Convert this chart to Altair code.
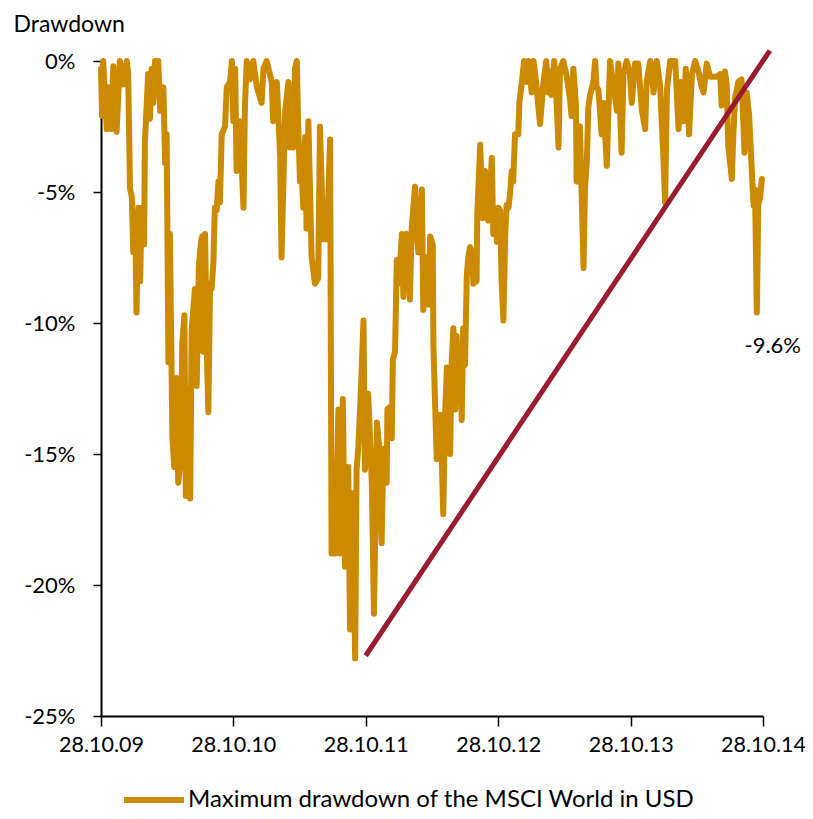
import altair as alt
import pandas as pd

START = "2009-10-28"
SERIES = "Maximum drawdown of the MSCI World in USD"

days = [0, 3, 6, 16, 19, 28, 34, 43, 52, 62, 71, 75, 80, 85, 89, 94, 98, 103, 108, 112,
        119, 121, 126, 130, 135, 140, 144, 149, 158, 163, 172, 177, 181, 186, 190, 197, 202, 209, 213, 221,
        224, 230, 234, 239, 246, 250, 259, 264, 270, 276, 279, 282, 287, 292, 296, 301, 305, 310, 314, 319,
        324, 328, 333, 342, 347, 356, 361, 365, 370, 374, 383, 393, 397, 402, 411, 420, 430, 443, 448, 457,
        471, 475, 485, 494, 498, 508, 517, 521, 526, 530, 535, 540, 544, 549, 554, 558, 563, 567, 572, 581,
        590, 599, 604, 613, 623, 632, 636, 646, 655, 659, 667, 673, 682, 687, 692, 696, 701, 705, 710, 716,
        724, 728, 737, 747, 753, 761, 768, 774, 779, 788, 790, 797, 802, 805, 811, 816, 820, 825, 830, 834,
        839, 843, 848, 852, 857, 866, 871, 875, 885, 889, 897, 903, 908, 915, 917, 926, 935, 940, 944, 949,
        954, 958, 963, 967, 972, 977, 981, 986, 990, 995, 999, 1004, 1009, 1013, 1018, 1023, 1027, 1036, 1038, 1046,
        1053, 1059, 1064, 1068, 1073, 1078, 1082, 1087, 1092, 1096, 1101, 1105, 1110, 1115, 1119, 1124, 1128, 1133, 1137, 1142,
        1151, 1154, 1161, 1167, 1174, 1179, 1188, 1193, 1202, 1206, 1211, 1220, 1228, 1234, 1239, 1243, 1250, 1255, 1262, 1266,
        1275, 1285, 1294, 1298, 1303, 1310, 1312, 1321, 1331, 1335, 1340, 1344, 1349, 1358, 1363, 1367, 1372, 1381, 1386, 1395,
        1404, 1413, 1423, 1427, 1436, 1441, 1450, 1459, 1464, 1473, 1482, 1492, 1501, 1505, 1515, 1524, 1533, 1542, 1551, 1556,
        1561, 1570, 1584, 1593, 1600, 1606, 1613, 1622, 1630, 1639, 1648, 1657, 1662, 1671, 1680, 1699, 1708, 1712, 1721, 1726,
        1730, 1740, 1744, 1749, 1758, 1767, 1775, 1781, 1788, 1793, 1800, 1804, 1809, 1813, 1818, 1823]

drawdown = [-0.3, -2.1, 0, -2.6, -1.0, -2.6, -0.2, -2.7, 0, -0.9, 0, -0.5, -4.85, -5.2, -7.3, -5.8, -9.6, -5.6, -8.4, -5.6,
            -7.0, -3.1, -1.7, -0.5, -2.2, -0.3, -1.6, 0, 0, -1.9, -1.0, -3.9, -2.8, -11.5, -6.6, -14.4, -15.5, -12.1, -16.1, -15.0,
            -10.8, -9.7, -16.6, -12.5, -16.7, -10.3, -8.7, -12.4, -7.8, -6.9, -6.7, -11.1, -6.6, -11.1, -13.4, -8.5, -8.7, -7.7, -5.6, -5.7,
            -4.6, -5.4, -2.8, -2.5, -1.0, -0.8, 0, -2.3, -0.3, -4.2, -2.3, -5.6, -1.7, 0, -0.7, 0, -1.0, -1.6, -0.3, 0,
            -0.8, -2.3, -0.8, -3.6, -7.5, -1.9, -0.8, -3.3, -1.5, -3.3, -0.3, 0, -2.5, -4.6, -4.4, -5.6, -2.9, -6.4, -2.3, -7.5,
            -8.5, -8.3, -2.5, -6.8, -6.8, -3.0, -18.8, -18.8, -13.3, -18.8, -12.9, -19.3, -15.5, -21.7, -16.5, -18.0, -22.8, -15.6, -14.7, -12.9,
            -9.9, -15.6, -12.7, -16.1, -21.1, -13.8, -14.8, -18.4, -14.8, -16.1, -13.3, -13.2, -14.4, -11.4, -11.1, -7.6, -8.5, -7.7, -6.6, -9.0,
            -6.8, -6.6, -7.7, -9.1, -6.4, -4.8, -6.4, -7.3, -4.9, -9.5, -7.5, -9.3, -6.7, -7.0, -10.9, -15.2, -13.5, -15.2, -17.3, -13.5,
            -11.7, -13.3, -15.0, -11.6, -10.2, -13.3, -10.5, -12.6, -11.0, -13.7, -10.2, -11.6, -8.2, -7.5, -7.1, -7.3, -8.5, -8.4, -5.8, -3.2,
            -6.0, -4.2, -5.8, -6.1, -5.0, -3.7, -6.6, -5.8, -6.9, -5.6, -5.7, -8.4, -9.9, -6.6, -5.5, -5.6, -5.1, -4.2, -4.6, -2.8,
            -2.8, -1.6, -0.8, 0, -0.8, 0, -1.2, 0, -1.0, -1.7, -2.4, -0.9, 0, -1.2, -0.4, -1.3, 0, -1.0, -3.3, -0.3,
            0, -0.6, -1.5, -2.1, -0.3, -1.7, -4.6, -2.5, -7.9, -4.8, -3.9, -1.8, -1.3, -0.8, 0, -1.0, -1.1, -2.8, -1.6, -4.0,
            0, -0.9, -1.9, -0.1, -3.5, -0.5, 0, -0.5, -1.6, -0.1, -0.1, -1.9, -2.6, -0.8, 0, -1.2, 0, -0.9, -3.6, -5.4,
            -1.1, 0, 0, -2.6, -0.8, -2.3, -0.3, -2.8, -0.5, 0, -0.4, -1.0, -1.2, -0.1, -0.6, -0.6, -0.5, -1.7, -0.4, -0.9,
            -3.2, -4.5, -2.9, -1.4, -0.8, -0.7, -3.5, -1.2, -2.1, -3.6, -5.5, -4.9, -9.6, -5.5, -5.2, -4.5]

trend_dates = ["2011-10-28", "2014-11-16"]
trend_values = [-22.7, 0.4]

label_text = "-9.6%"
label_date = "2014-10-08"
label_value = -9.6

y_ticks = [-25, -20, -15, -10, -5, 0]
x_tick_years = [2009, 2010, 2011, 2012, 2013, 2014]

ORANGE = "#CC8A00"
RED = "#9B1C31"
FONT = "Lato"
FS = 22

dates = pd.Timestamp(START) + pd.to_timedelta(days, unit="D")
df = pd.DataFrame({"date": dates, "value": drawdown, "series": SERIES})
trend = pd.DataFrame({"date": pd.to_datetime(trend_dates), "value": trend_values})
lab = pd.DataFrame({"date": pd.to_datetime([label_date]), "value": [label_value], "text": [label_text]})

x_scale = alt.Scale(domain=[alt.DateTime(year=2009, month=10, date=28),
                            alt.DateTime(year=2014, month=10, date=28)])
y_scale = alt.Scale(domain=[-25, 0], nice=False, zero=False)

x_enc = alt.X("date:T", scale=x_scale, title=None,
              axis=alt.Axis(values=[alt.DateTime(year=y, month=10, date=28) for y in x_tick_years],
                            format="%d.%m.%y", grid=False, tickSize=10, tickWidth=1.5,
                            domainWidth=2, domainColor="black", tickColor="black",
                            labelFontSize=21.5, labelFont=FONT, labelColor="black",
                            labelPadding=8, labelFlush=False))
y_enc = alt.Y("value:Q", scale=y_scale,
              axis=alt.Axis(values=y_ticks, labelExpr="datum.value + '%'", grid=False,
                            tickSize=8, tickWidth=1.5, domainWidth=2, domainColor="black",
                            tickColor="black", labelFontSize=FS, labelFont=FONT,
                            labelColor="black", labelPadding=18,
                            title="Drawdown", titleAngle=0, titleAlign="left",
                            titleBaseline="alphabetic", titleX=-88, titleY=-30,
                            titleFont=FONT, titleFontSize=23, titleFontWeight="normal",
                            titleColor="black"))

line = alt.Chart(df).mark_line(strokeWidth=6, strokeJoin="round", strokeCap="round").encode(
    x=x_enc, y=y_enc,
    color=alt.Color("series:N", scale=alt.Scale(domain=[SERIES], range=[ORANGE]),
                    legend=alt.Legend(title=None, orient="none", legendX=20, legendY=706,
                                      symbolType="stroke", symbolSize=3600, symbolStrokeWidth=6,
                                      labelFontSize=24, labelFont=FONT, labelColor="black",
                                      labelOffset=1, labelLimit=0))
)

trend_line = alt.Chart(trend).mark_line(strokeWidth=5, color=RED).encode(
    x="date:T", y="value:Q"
)

text = alt.Chart(lab).mark_text(fontSize=FS, font=FONT, color="black", align="center",
                                baseline="middle", dx=17, dy=33).encode(
    x="date:T", y="value:Q", text="text:N"
)

chart = alt.layer(line, trend_line, text).properties(
    width=662, height=655,
    autosize=alt.AutoSizeParams(type="none"),
    padding={"left": 93, "top": 53, "right": 42, "bottom": 95},
).configure_view(stroke=None)

chart.save("out.html", embed_options={"renderer": "svg", "actions": False})
